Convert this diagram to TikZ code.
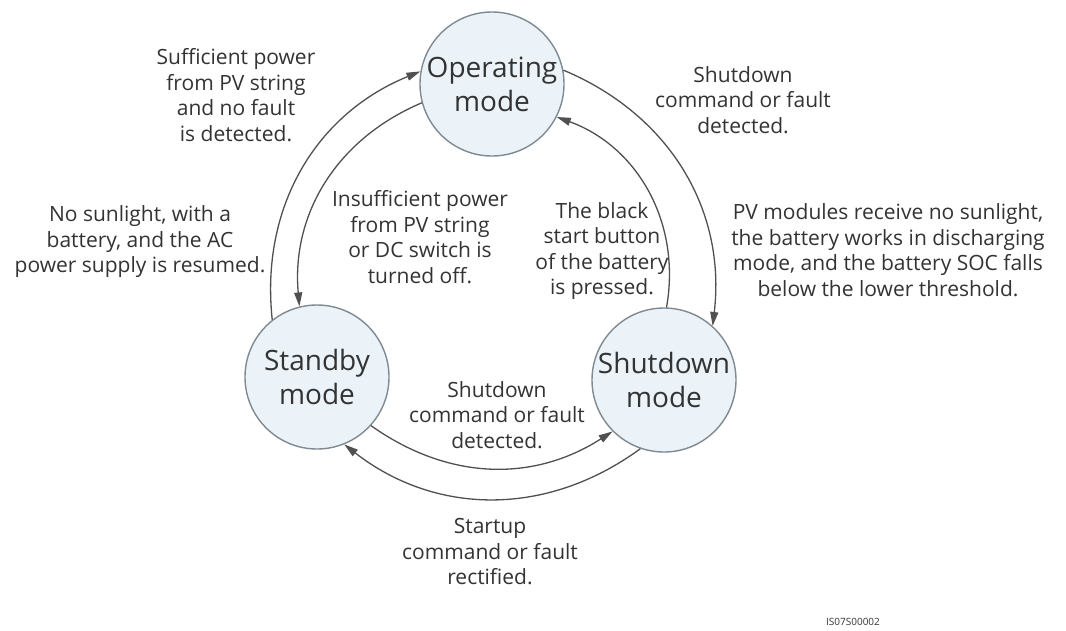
\documentclass[tikz,border=0pt]{standalone}
\usepackage{fontspec}
\setmainfont{Open Sans}
\usetikzlibrary{arrows.meta}
\definecolor{txt}{HTML}{333333}
\definecolor{circ}{HTML}{7F8A92}
\definecolor{circfill}{HTML}{EBF3F9}
\definecolor{arrc}{HTML}{505050}
\begin{document}
\begin{tikzpicture}[x=1pt,y=-1pt,
  mode/.style={circle, draw=circ, fill=circfill, line width=1.4pt, minimum size=144pt, inner sep=0pt, align=center, font=\fontsize{28}{34}\selectfont, text=txt},
  lbl/.style={align=center, font=\fontsize{21}{25.5}\selectfont, text=txt, inner sep=0pt},
  arr/.style={draw=arrc, line width=1.3pt, -{Triangle[length=14pt,width=8pt]}}]
\useasboundingbox (0,0) rectangle (1066,630);
\fill[white] (0,0) rectangle (1066,630);
\node[mode] (op) at (492,84) {Operating\\mode};
\node[mode] (sb) at (317,377) {Standby\\mode};
\node[mode] (sd) at (664,380) {Shutdown\\mode};
\draw[arr] (sb.128) to[bend left=37] (op.170);
\draw[arr] (op.195) to[bend right=36] (sb.104);
\draw[arr] (op.11) to[bend left=37] (sd.48);
\draw[arr] (sd.88) to[bend right=40] (op.-27);
\draw[arr] (sb.-42) to[bend right=34] (sd.225);
\draw[arr] (sd.251) to[bend left=37] (sb.-68);
\node[lbl] (t1) at (236,95) {Sufficient power\\from PV string\\and no fault\\is detected.};
\node[lbl] (t2) at (743,100) {Shutdown\\command or fault\\detected.};
\node[lbl] (t3) at (140,242) {No sunlight, with a\\battery, and the AC\\power supply is resumed.};
\node[lbl] (t4) at (420,237) {Insufficient power\\from PV string\\or DC switch is\\turned off.};
\node[lbl] (t5) at (602,251) {The black\\start button\\of the battery\\is pressed.};
\node[lbl] (t6) at (888,250) {PV modules receive no sunlight,\\the battery works in discharging\\mode, and the battery SOC falls\\below the lower threshold.};
\node[lbl] (t7) at (497,415) {Shutdown\\command or fault\\detected.};
\node[lbl] (t8) at (490,552) {Startup\\command or fault\\rectified.};
\node[text=txt, font=\fontsize{10}{12}\selectfont, inner sep=0pt] (id) at (853,622) {IS07S00002};
\end{tikzpicture}
\end{document}
